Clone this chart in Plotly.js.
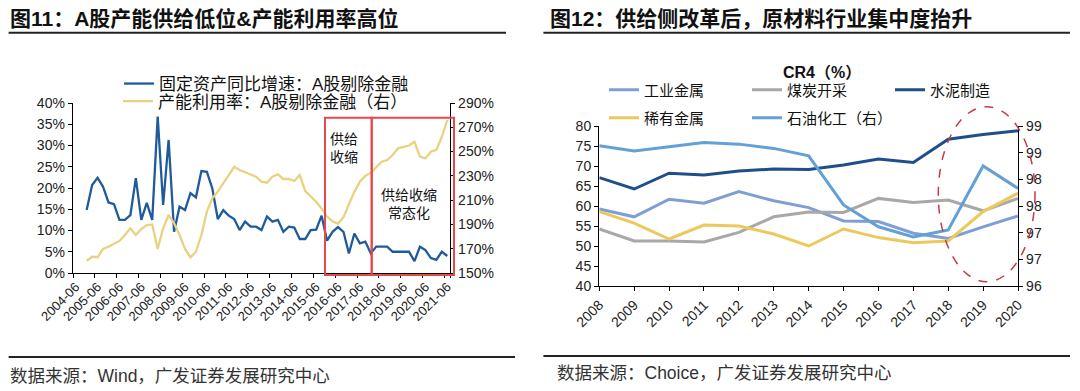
<!DOCTYPE html>
<html><head><meta charset="utf-8">
<script src="https://cdn.plot.ly/plotly-3.0.1.min.js"></script>
<style>html,body{margin:0;padding:0;background:#fff;}#chart{width:1080px;height:391px;}</style>
</head><body><div id="chart"></div>
<script>
// ---------- Left chart (图11) ----------
// x-axis tick labels (every 4 quarters)
const leftTickLabels = ['2004-06','2005-06','2006-06','2007-06','2008-06','2009-06','2010-06','2011-06','2012-06',
  '2013-06','2014-06','2015-06','2016-06','2017-06','2018-06','2019-06','2020-06','2021-06'];
// quarterly categories 2004-06 .. 2021-06
const quarterCats = [];
for (let y = 2004; y <= 2021; y++) { for (const m of ['03','06','09','12']) { const s = y + '-' + m; if (s >= '2004-06' && s <= '2021-06') quarterCats.push(s); } }
const seriesQuarters = quarterCats.slice(2); // data 2004-12 .. 2021-06

// 固定资产同比增速：A股剔除金融 (%)
const fixedAssetGrowth = [14.8,20.7,22.4,20.3,16.6,16.2,12.5,12.5,13.6,22.3,12.5,16.5,12.5,36.8,16,31.3,9.7,15.6,14.8,18.8,17.8,
  24,23.8,19.9,12.7,14.8,13.5,12.7,10.1,12.1,10.9,10.9,10.1,13.3,12.1,12.5,9.7,10.9,10.7,8,8,10.1,10.2,
  13.5,
  7.6,9.7,10.8,9.7,4.6,9.3,7,7.4,4.6,6.2,6.2,6.2,5,5,5.1,5,2.8,6.2,5.4,3.5,3.1,5,4];
// 产能利用率：A股剔除金融（右）(%)
const capacityUtil = [160.1,163.4,163,169.8,171.7,173.9,176.4,181.3,186.8,181.3,186.2,189.5,190,169.8,186.8,197.8,190.9,181.3,169.8,162.9,167.5,
  181.3,200.5,211.5,217,223.9,230.7,237.5,234.8,232.9,231.5,229.3,225.2,224.4,229.3,231.3,227.4,227.4,225.8,230.7,217.5,212.8,208.7,
  203,
  196.5,192.5,190.5,196,206.5,217,225.2,230,232.5,237,241.7,243,247.2,252.7,254,255,258.1,245.8,244.4,249.9,251.5,262,276];

// ---------- Right chart (图12) ----------
const years = [2008,2009,2010,2011,2012,2013,2014,2015,2016,2017,2018,2019,2020];
const industrialMetals = [59.25,57.3,61.7,60.7,63.6,61.3,59.6,56.25,56.1,53.2,51.9,54.8,57.5];
const coalMining      = [54.25,51.25,51.25,51,53.4,57.3,58.5,58.4,61.9,60.9,61.5,58.8,61.9];
const cement          = [67.1,64.25,68.2,67.75,68.75,69.25,69.1,70.25,71.75,70.9,76.7,77.9,78.8];
const rareMetals      = [58.6,55.7,51.75,55.25,55,53,50,54.25,52.1,50.8,51.25,58.6,63.2];
const petrochem       = [98.63,98.53,98.61,98.69,98.66,98.58,98.44,97.52,97.11,96.92,97.05,98.25,97.83];
const rightAxisTickVals = [96,96.5,97,97.5,98,98.5,99];
const rightAxisTickText = ['96','97','97','98','98','99','99'];

// ---------- layout helpers ----------
const W = 1080, H = 391, L = 73, R = 62, T = 103, B = 105;
const gw = W - L - R, gh = H - T - B;
const px = x => (x - L) / gw;
const py = y => (H - B - y) / gh;
const F = 'Liberation Sans, Arial, Noto Sans CJK SC, sans-serif';

const axisCommon = {showgrid:false, zeroline:false, showline:true, linecolor:'#000', linewidth:1.3,
  ticks:'outside', ticklen:4, tickwidth:1, tickcolor:'#000', tickfont:{family:F, size:14, color:'#222'}, fixedrange:true};

const traces = [
  {x: seriesQuarters, y: fixedAssetGrowth, type:'scatter', mode:'lines', name:'固定资产同比增速：A股剔除金融',
   xaxis:'x', yaxis:'y', line:{color:'#1f5b9c', width:2.3}, legend:'legend'},
  {x: seriesQuarters, y: capacityUtil, type:'scatter', mode:'lines', name:'产能利用率：A股剔除金融（右）',
   xaxis:'x', yaxis:'y2', line:{color:'#e8d282', width:2.3}, legend:'legend2'},
  {x: years, y: industrialMetals, type:'scatter', mode:'lines', name:'工业金属', xaxis:'x2', yaxis:'y3', line:{color:'#7f9fd4', width:3}, legend:'legend3'},
  {x: years, y: coalMining, type:'scatter', mode:'lines', name:'煤炭开采', xaxis:'x2', yaxis:'y3', line:{color:'#a8a8a8', width:3}, legend:'legend3'},
  {x: years, y: cement, type:'scatter', mode:'lines', name:'水泥制造', xaxis:'x2', yaxis:'y3', line:{color:'#1f4e8c', width:3}, legend:'legend3'},
  {x: years, y: rareMetals, type:'scatter', mode:'lines', name:'稀有金属', xaxis:'x2', yaxis:'y3', line:{color:'#ebc95c', width:3}, legend:'legend4'},
  {x: years, y: petrochem, type:'scatter', mode:'lines', name:'石油化工（右）', xaxis:'x2', yaxis:'y4', line:{color:'#64a0d8', width:3}, legend:'legend4'}
];

const legendBase = {xanchor:'left', yanchor:'middle', bgcolor:'rgba(0,0,0,0)', borderwidth:0, visible:true};
const layout = {
  width: W, height: H, paper_bgcolor:'#fff', plot_bgcolor:'rgba(0,0,0,0)',
  margin:{l:L, r:R, t:T, b:B, autoexpand:false},
  font:{family:F, color:'#222'},
  hovermode:false,
  showlegend:true,
  xaxis: Object.assign({}, axisCommon, {domain:[px(73), px(450)], anchor:'y', type:'category',
    categoryorder:'array', categoryarray: quarterCats, range:[-0.5, quarterCats.length - 0.5],
    tickmode:'array', tickvals: leftTickLabels, ticktext: leftTickLabels, tickangle:-45, tickson:'boundaries',
    tickfont:{family:F, size:13, color:'#222'}}),
  yaxis: Object.assign({}, axisCommon, {domain:[py(273), py(103)], anchor:'x', range:[0,40], tick0:0, dtick:5, ticksuffix:'%'}),
  yaxis2: Object.assign({}, axisCommon, {overlaying:'y', side:'right', anchor:'x', range:[150,290], tick0:150, dtick:20, ticksuffix:'%'}),
  xaxis2: Object.assign({}, axisCommon, {domain:[px(599.3), px(1018.3)], anchor:'y3', range:[2008,2020],
    tickmode:'array', tickvals: years, tickangle:-45}),
  yaxis3: Object.assign({}, axisCommon, {domain:[py(286), py(126)], anchor:'x2', range:[40,80], tick0:40, dtick:5}),
  yaxis4: Object.assign({}, axisCommon, {overlaying:'y3', side:'right', anchor:'x2', range:[96,99],
    tickmode:'array', tickvals: rightAxisTickVals, ticktext: rightAxisTickText}),
  legend: Object.assign({}, legendBase, {x:px(119), y:py(84), font:{family:F, size:17, color:'#111'}}),
  legend2: Object.assign({}, legendBase, {x:px(118), y:py(101.5), font:{family:F, size:17, color:'#111'}}),
  legend3: Object.assign({}, legendBase, {x:px(604), y:py(90), orientation:'h', entrywidth:98, font:{family:F, size:15, color:'#111'}}),
  legend4: Object.assign({}, legendBase, {x:px(604), y:py(118), orientation:'h', entrywidth:98, font:{family:F, size:15, color:'#111'}}),
  shapes: [
    {type:'line', xref:'paper', yref:'paper', x0:px(8.6), x1:px(506), y0:py(32.7), y1:py(32.7), line:{color:'#222', width:2}},
    {type:'line', xref:'paper', yref:'paper', x0:px(543.4), x1:px(1070), y0:py(32.7), y1:py(32.7), line:{color:'#222', width:2}},
    {type:'line', xref:'paper', yref:'paper', x0:px(8.6), x1:px(515), y0:py(357), y1:py(357), line:{color:'#222', width:2}},
    {type:'line', xref:'paper', yref:'paper', x0:px(543.4), x1:px(1070), y0:py(356), y1:py(356), line:{color:'#222', width:2}},
    {type:'rect', xref:'paper', yref:'paper', x0:px(325), x1:px(371.7), y0:py(275), y1:py(117.7), line:{color:'#e5484d', width:2}},
    {type:'rect', xref:'paper', yref:'paper', x0:px(371.7), x1:px(454), y0:py(275), y1:py(117.7), line:{color:'#e5484d', width:2}},
    {type:'circle', xref:'paper', yref:'paper', x0:px(938.3), x1:px(1035), y0:py(281.7), y1:py(106.7), line:{color:'#c43c46', width:1.5, dash:'dash'}}
  ],
  annotations: [
    {text:'<b>图11：A股产能供给低位&amp;产能利用率高位</b>', xref:'paper', yref:'paper', x:px(8), y:py(19), xanchor:'left', yanchor:'middle', showarrow:false, font:{family:F, size:21, color:'#111'}},
    {text:'<b>图12：供给侧改革后，原材料行业集中度抬升</b>', xref:'paper', yref:'paper', x:px(548), y:py(19), xanchor:'left', yanchor:'middle', showarrow:false, font:{family:F, size:21, color:'#111'}},
    {text:'数据来源：Wind，广发证券发展研究中心', xref:'paper', yref:'paper', x:px(8), y:py(375.5), xanchor:'left', yanchor:'middle', showarrow:false, font:{family:F, size:17.5, color:'#333'}},
    {text:'数据来源：Choice，广发证券发展研究中心', xref:'paper', yref:'paper', x:px(555), y:py(373), xanchor:'left', yanchor:'middle', showarrow:false, font:{family:F, size:17.5, color:'#333'}},
    {text:'供给<br>收缩', xref:'paper', yref:'paper', x:px(344), y:py(147.5), xanchor:'center', yanchor:'middle', showarrow:false, font:{family:F, size:14, color:'#111'}},
    {text:'供给收缩<br>常态化', xref:'paper', yref:'paper', x:px(409), y:py(204), xanchor:'center', yanchor:'middle', showarrow:false, font:{family:F, size:14, color:'#111'}},
    {text:'<b>CR4（%）</b>', xref:'paper', yref:'paper', x:px(822), y:py(72), xanchor:'center', yanchor:'middle', showarrow:false, font:{family:F, size:16, color:'#111'}}
  ]
};

Plotly.newPlot('chart', traces, layout, {displayModeBar:false, staticPlot:true});
</script>
</body></html>
